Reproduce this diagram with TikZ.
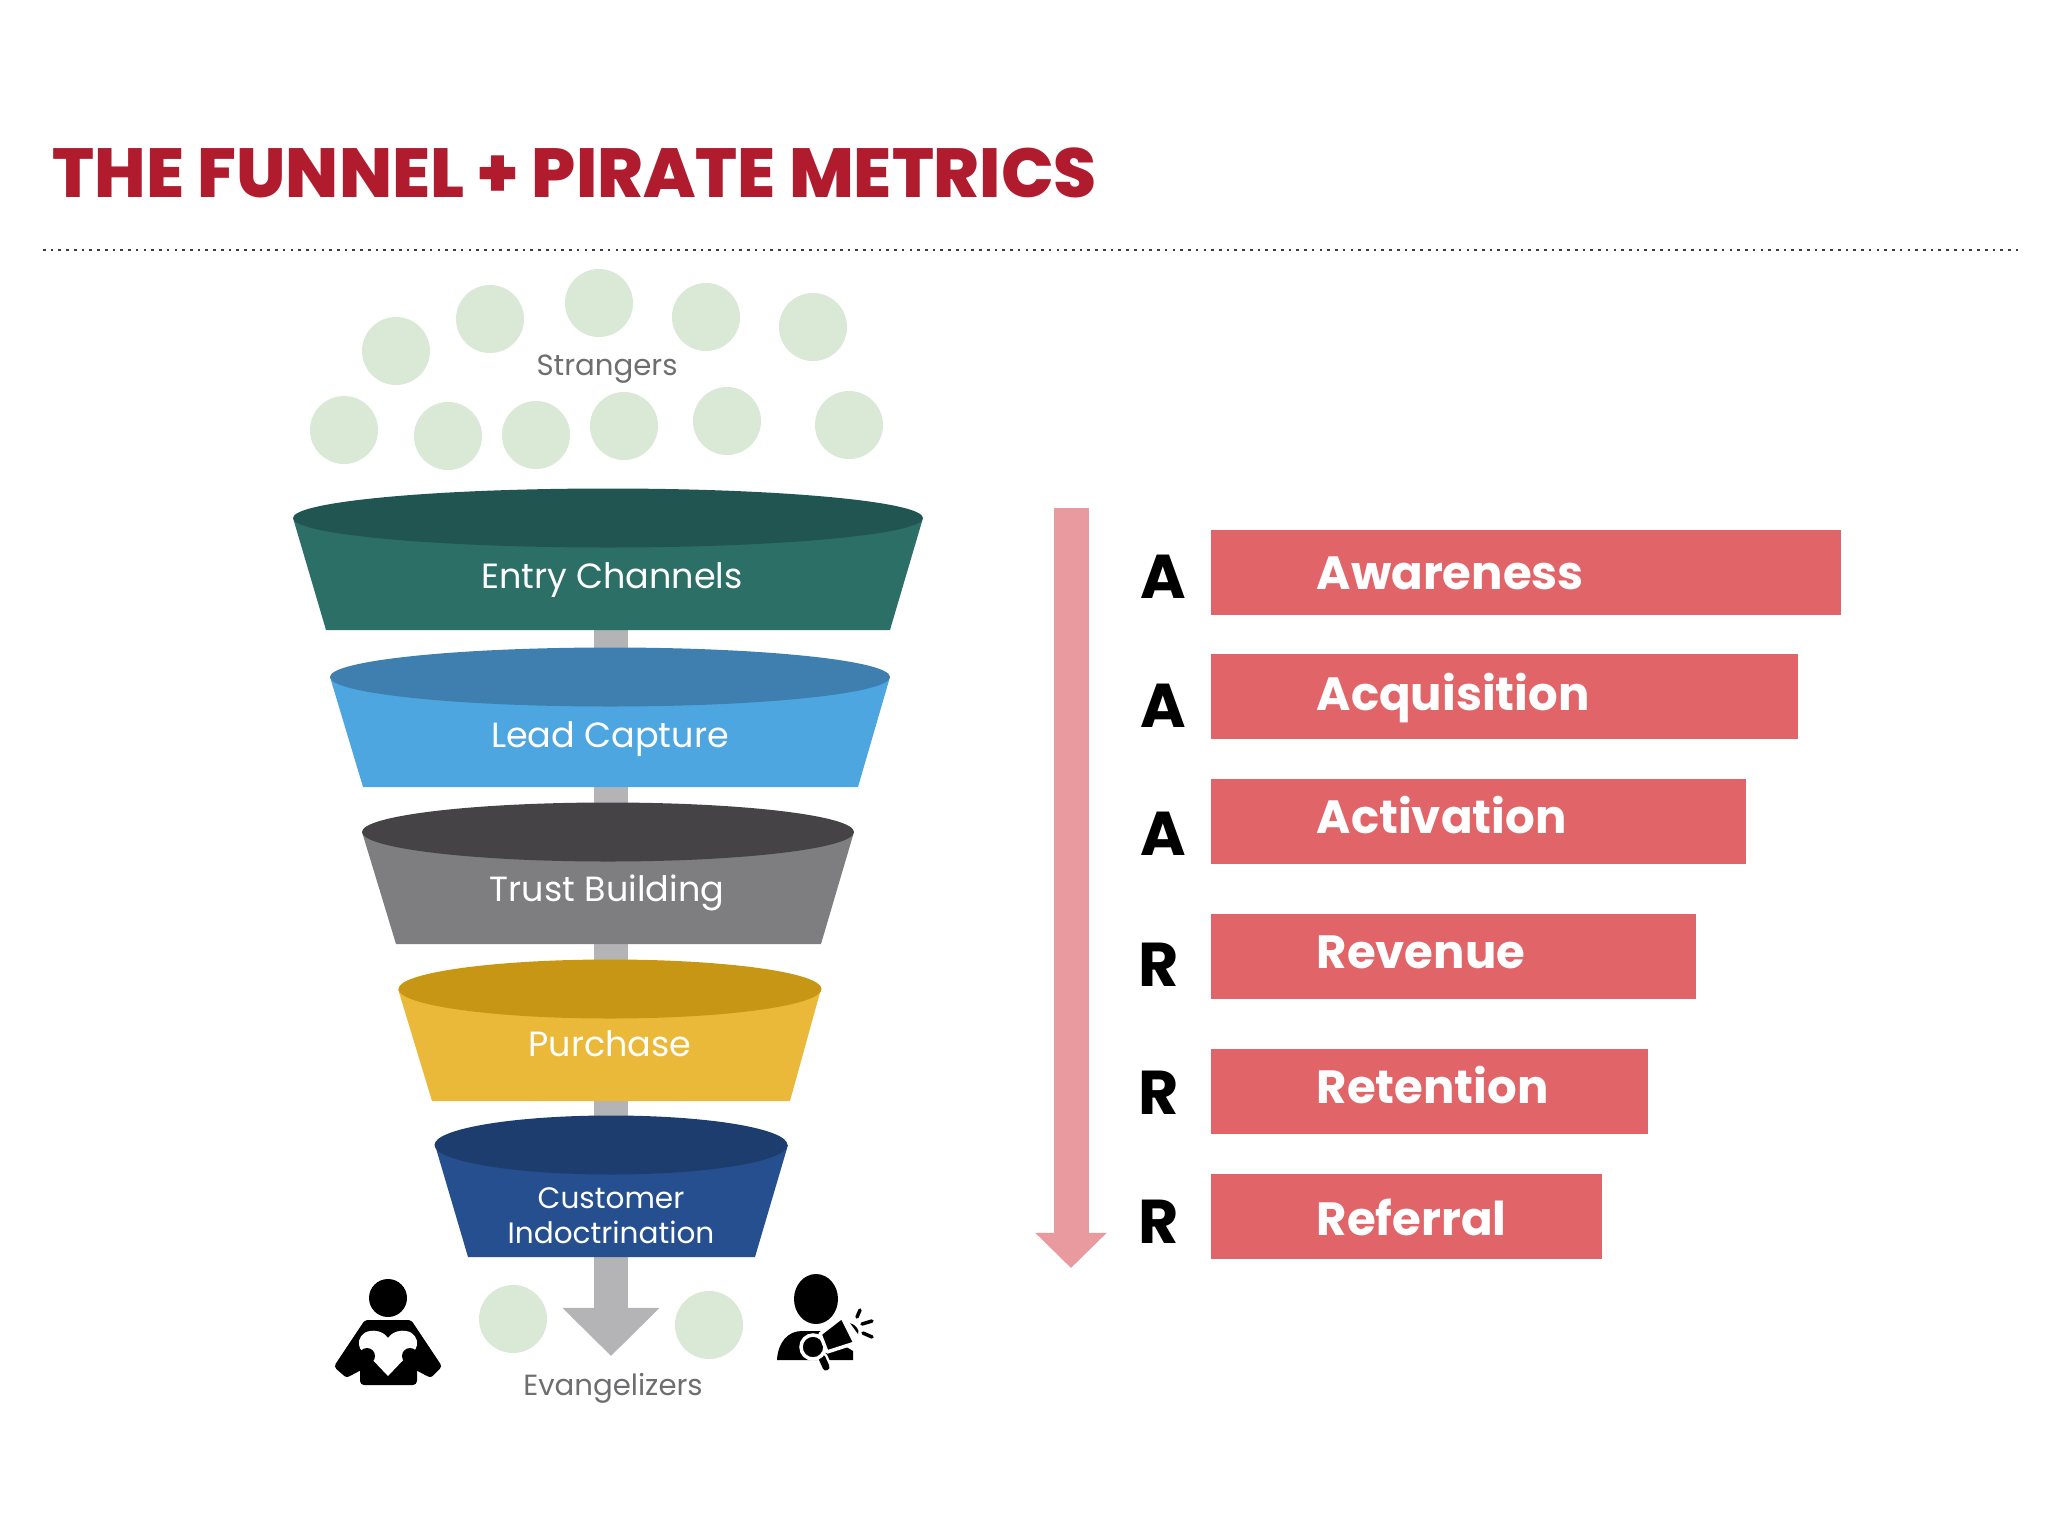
\documentclass[tikz,border=0pt]{standalone}
\usepackage{fontspec}
\usepackage{xcolor}
\setmainfont{Poppins}
\newfontface\heavyfont{Poppins ExtraBold}
\usetikzlibrary{arrows.meta}
\definecolor{pmTitle}{HTML}{B01C2E}
\definecolor{pmDots}{HTML}{3C3C3C}
\definecolor{pmBubble}{HTML}{DAE9D6}
\definecolor{pmLabel}{HTML}{6E6E70}
\definecolor{pmPipe}{HTML}{B4B4B6}
\definecolor{pmFlow}{HTML}{E89A9E}
\definecolor{pmBar}{HTML}{E06468}
\definecolor{entryBody}{HTML}{2C6F66}
\definecolor{entryTop}{HTML}{205551}
\definecolor{leadBody}{HTML}{4DA6DF}
\definecolor{leadTop}{HTML}{3E7FB0}
\definecolor{trustBody}{HTML}{7E7D80}
\definecolor{trustTop}{HTML}{454346}
\definecolor{purchaseBody}{HTML}{EBB939}
\definecolor{purchaseTop}{HTML}{C79615}
\definecolor{customerBody}{HTML}{264F90}
\definecolor{customerTop}{HTML}{1D3D6E}

\begin{document}
\begin{tikzpicture}[
        x=0.01cm,
        y=-0.01cm,
        bubble/.style={
            circle,
            fill=pmBubble,
            minimum size=0.68cm,
            inner sep=0pt
        },
        stagelabel/.style={
            text=white,
            align=center,
            font=\fontsize{9.95pt}{11pt}\selectfont
        },
        sidelabel/.style={
            text=pmLabel,
            font=\fontsize{8.3pt}{10pt}\selectfont
        },
        metric/.style={
            fill=pmBar,
            anchor=north west,
            minimum height=0.85cm,
            inner sep=0pt
        },
        metriclabel/.style={
            text=white,
            anchor=base west,
            inner sep=0pt,
            font=\fontsize{13.25pt}{15pt}\selectfont\bfseries
        },
        letter/.style={
            text=black,
            anchor=base west,
            inner sep=0pt,
            font=\fontsize{17.6pt}{20pt}\selectfont\bfseries
        },
        pipe/.style={
            -{Triangle[length=0.48cm,width=0.94cm]},
            line width=0.34cm,
            draw=pmPipe
        },
        flow/.style={
            -{Triangle[length=0.35cm,width=0.69cm]},
            line width=0.35cm,
            draw=pmFlow
        }
    ]
    \useasboundingbox (0,0) rectangle (2048,1536);

    \node[anchor=base west, inner sep=0pt, text=pmTitle, font=\fontsize{19.75pt}{22pt}\heavyfont] (title) at (52,197) {THE FUNNEL + PIRATE METRICS};
    \coordinate (ruleleft) at (43,250);
    \coordinate (ruleright) at (2018,250);
    \draw[pmDots, line width=0.75pt, dash pattern=on 0.75pt off 1.45pt] (ruleleft) -- (ruleright);

    % strangers
    \node[bubble] (bubblea) at (396,351) {};
    \node[bubble] (bubbleb) at (490,319) {};
    \node[bubble] (bubblec) at (599,303) {};
    \node[bubble] (bubbled) at (706,317) {};
    \node[bubble] (bubblee) at (813,327) {};
    \node[bubble] (bubblef) at (344,430) {};
    \node[bubble] (bubbleg) at (448,436) {};
    \node[bubble] (bubbleh) at (536,435) {};
    \node[bubble] (bubblei) at (624,426) {};
    \node[bubble] (bubblej) at (727,421) {};
    \node[bubble] (bubblek) at (849,425) {};
    \node[sidelabel] (strangers) at (607,369) {Strangers};

    % pipe behind the funnel
    \coordinate (pipetop) at (611,600);
    \coordinate (pipetip) at (611,1356);
    \draw[pipe] (pipetop) -- (pipetip);

    % funnel
    \fill[entryBody] (293,518) -- (326,630) -- (890,630) -- (923,518) -- cycle;
    \fill[entryTop] (608,518) ellipse [x radius=315, y radius=29.5];
    \node[stagelabel] (entry) at (612,580) {Entry Channels};

    \fill[leadBody] (330,677) -- (363,787) -- (858,787) -- (890,677) -- cycle;
    \fill[leadTop] (610,677) ellipse [x radius=280, y radius=29.5];
    \node[stagelabel] (lead) at (610,739) {Lead Capture};

    \fill[trustBody] (362,832) -- (396,944) -- (821,944) -- (854,832) -- cycle;
    \fill[trustTop] (608,832) ellipse [x radius=246, y radius=29.5];
    \node[stagelabel] (trust) at (607,893) {Trust Building};

    \fill[purchaseBody] (398,989) -- (432,1101) -- (790,1101) -- (821,989) -- cycle;
    \fill[purchaseTop] (610,989) ellipse [x radius=211.5, y radius=29.5];
    \node[stagelabel] (purchase) at (610,1044) {Purchase};

    \fill[customerBody] (435,1145) -- (468,1257) -- (755,1257) -- (788,1145) -- cycle;
    \fill[customerTop] (611,1145) ellipse [x radius=176.5, y radius=29.5];
    \node[stagelabel, font=\fontsize{8.4pt}{10pt}\selectfont] (customer) at (611,1216) {Customer\\Indoctrination};

    % evangelizers
    \node[bubble] (bubblel) at (513,1319) {};
    \node[bubble] (bubblem) at (709,1325) {};
    \node[sidelabel] (evangelizers) at (613,1388) {Evangelizers};

    % reader with heart
    \fill[black] (388,1298) circle [radius=19];
    \filldraw[black, line width=0.08cm, line join=round] (367,1324) -- (409,1324) -- (437,1366) -- (430,1373) -- (413,1364) -- (413,1381) -- (364,1381) -- (364,1364) -- (347,1373) -- (339,1366) -- cycle;
    \fill[white] (388,1338) .. controls (383,1331) and (375,1330) .. (370,1331) .. controls (362,1332) and (358,1339) .. (359,1345) .. controls (360,1351) and (364,1352) .. (368,1355) -- (388,1376) -- (408,1355) .. controls (412,1352) and (416,1351) .. (417,1345) .. controls (418,1339) and (414,1332) .. (406,1331) .. controls (401,1330) and (393,1331) .. (388,1338) -- cycle;
    \fill[black] (367,1356) circle [radius=8];
    \fill[black] (410,1356) circle [radius=8];

    % person with megaphone
    \fill[black] (816,1299) ellipse [x radius=22, y radius=25];
    \fill[black] (777,1360) .. controls (778,1342) and (788,1331) .. (802,1331) -- (820,1331) -- (853,1351) -- (853,1360) -- cycle;
    \draw[white, line width=0.11cm, line cap=round] (822,1357) -- (827,1368);
    \draw[black, line width=0.07cm, line cap=round] (822,1358) -- (826,1367);
    \filldraw[fill=black, draw=white, line width=0.035cm] (813,1347) circle [radius=12];
    \filldraw[fill=black, draw=white, line width=0.035cm, line join=round] (820,1334) -- (842,1317) -- (855,1343) -- (827,1352) -- cycle;
    \fill[black] (850,1323) .. controls (856,1325) and (860,1330) .. (858,1334) -- cycle;
    \draw[black, line width=0.035cm, line cap=round] (857,1317) -- (860,1310);
    \draw[black, line width=0.035cm, line cap=round] (862,1324) -- (872,1321);
    \draw[black, line width=0.035cm, line cap=round] (863,1333) -- (872,1337);

    % pirate metrics
    \coordinate (flowtop) at (1071,508);
    \coordinate (flowtip) at (1071,1268);
    \draw[flow] (flowtop) -- (flowtip);

    \node[metric, minimum width=6.30cm] (awareness) at (1210,529) {};
    \node[metric, minimum width=5.87cm] (acquisition) at (1210,653) {};
    \node[metric, minimum width=5.35cm] (activation) at (1210,778) {};
    \node[metric, minimum width=4.85cm] (revenue) at (1210,913) {};
    \node[metric, minimum width=4.37cm] (retention) at (1210,1048) {};
    \node[metric, minimum width=3.91cm] (referral) at (1210,1173) {};

    \node[metriclabel] (awarenesslabel) at (1316,589) {Awareness};
    \node[metriclabel] (acquisitionlabel) at (1316,710) {Acquisition};
    \node[metriclabel] (activationlabel) at (1316,833) {Activation};
    \node[metriclabel] (revenuelabel) at (1316,968) {Revenue};
    \node[metriclabel] (retentionlabel) at (1316,1103) {Retention};
    \node[metriclabel] (referrallabel) at (1316,1235) {Referral};

    \node[letter] (lettera) at (1140,598) {A};
    \node[letter] (letterb) at (1140,727) {A};
    \node[letter] (letterc) at (1140,855) {A};
    \node[letter] (letterd) at (1138,986) {R};
    \node[letter] (lettere) at (1138,1114) {R};
    \node[letter] (letterf) at (1138,1243) {R};
    
    \end{tikzpicture}
\end{document}
